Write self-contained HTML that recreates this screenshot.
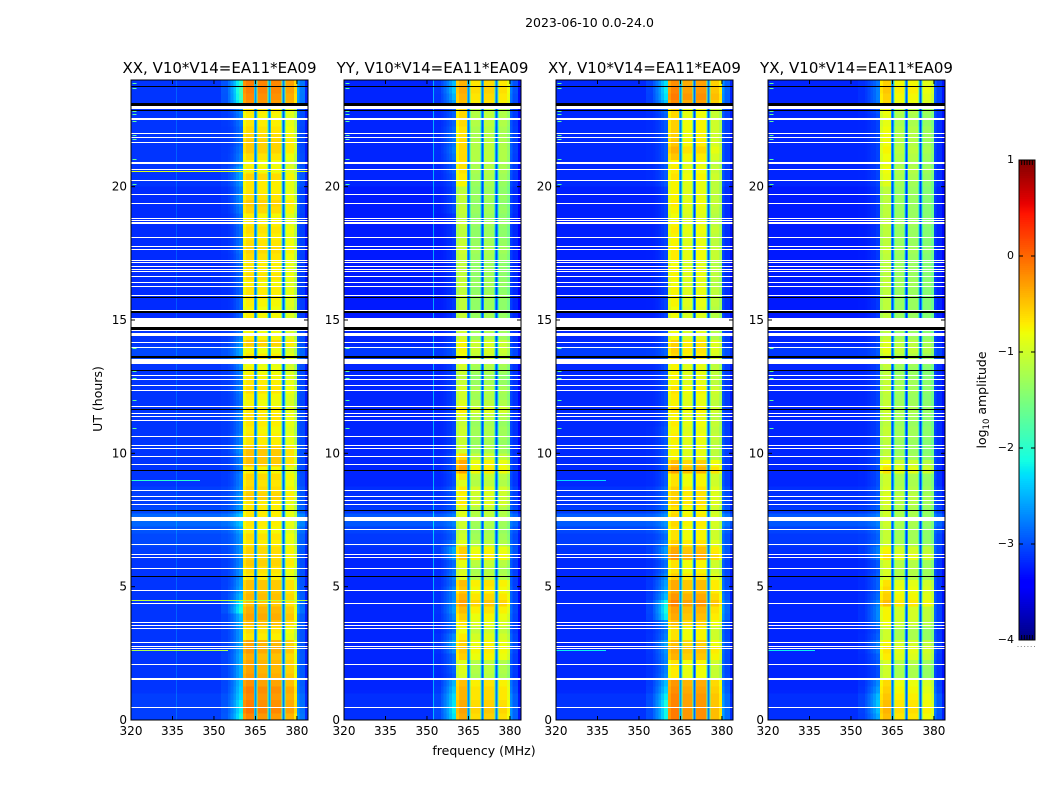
<!DOCTYPE html>
<html lang="en">
<head>
<meta charset="utf-8">
<title>2023-06-10 0.0-24.0 amplitude waterfall</title>
<style>
html,body{margin:0;padding:0;background:#fff;width:1050px;height:800px;overflow:hidden}
svg{display:block}
text{font-family:"DejaVu Sans","Liberation Sans",sans-serif;fill:#000}
</style>
</head>
<body>
<svg id="chart" xmlns="http://www.w3.org/2000/svg" width="1050" height="800" viewBox="0 0 1050 800">
<text x="589.5" y="27" font-size="12.5" text-anchor="middle">2023-06-10 0.0-24.0</text>
<text x="484" y="755" font-size="12.5" text-anchor="middle">frequency (MHz)</text>
<text x="0" y="0" font-size="12.5" text-anchor="middle" transform="translate(102,399) rotate(-90)">UT (hours)</text>
<text x="0" y="0" font-size="12.5" text-anchor="middle" transform="translate(986,400) rotate(-90)">log<tspan font-size="8.5" dy="3">10</tspan><tspan dy="-3"> amplitude</tspan></text>
<g id="panels"></g>
<g id="colorbar"></g>
</svg>
<script>
// ---------- categories and axis labels ----------
const panelTitles = ["XX, V10*V14=EA11*EA09","YY, V10*V14=EA11*EA09","XY, V10*V14=EA11*EA09","YX, V10*V14=EA11*EA09"];
const xTickLabels = [320,335,350,365,380];
const yTickLabels = [0,5,10,15,20];
const colorbarTickLabels = [1,0,-1,-2,-3,-4];

// frequency bin edges in MHz (33 edges, 32 bins)
const freqEdges = [320,325,330,336.2,336.6,342,347,352.2,352.6,355,356,357,358,359,360.5,361.5,364.4,364.7,365.4,365.7,369.4,369.7,370.4,370.7,374.5,374.8,375.5,375.8,379,380,381,383,384];

// log10 amplitude read per frequency bin
const spectrumXX = [-3.12,-3.12,-3.12,-2.9,-3.12,-3.12,-3.12,-3.12,-3.12,-3.12,-3.1,-3.05,-3.0,-2.95,-0.88,-0.76,-2.1,-2.85,-2.1,-0.8,-2.1,-2.75,-2.1,-0.82,-2.1,-2.95,-2.1,-0.95,-1.25,-3.0,-3.05,-3.25];
const spectrumYY = [-3.2,-3.2,-3.2,-3.2,-3.2,-3.2,-3.2,-2.5,-3.2,-3.2,-3.18,-3.15,-3.15,-3.1,-1.15,-1.0,-2.2,-2.9,-2.2,-1.27,-2.2,-3.0,-2.2,-1.2,-2.2,-3.0,-2.2,-1.28,-1.45,-3.05,-3.15,-3.35];
const spectrumXY = [-3.18,-3.18,-3.18,-3.18,-3.18,-3.18,-3.18,-3.18,-3.18,-3.18,-3.16,-3.14,-3.1,-3.05,-1.0,-0.85,-2.1,-2.85,-2.1,-1.0,-2.1,-3.1,-2.1,-0.95,-2.1,-3.0,-2.1,-1.2,-1.4,-3.0,-3.1,-3.25];
const spectrumYX = [-3.2,-3.2,-3.2,-3.2,-3.2,-3.2,-3.2,-3.2,-3.2,-3.2,-3.18,-3.15,-3.15,-3.1,-1.2,-1.05,-2.2,-3.0,-2.2,-1.27,-2.2,-3.1,-2.2,-1.27,-2.2,-3.1,-2.2,-1.38,-1.55,-3.05,-3.15,-3.3];

// how strongly each frequency bin follows the in-band gain, the band shoulder and the out-of-band backdrop
const bandResponse = [0,0,0,0,0,0,0,0,0,0,0,0,0,0,1,1,.6,.3,.6,1,.6,.3,.6,1,.6,.3,.6,1,1,0,0,0];
const shoulderResponse = [0,0,0,0,0,0,0,0,.15,.3,.45,.6,.8,1,0,0,0,0,0,0,0,0,0,0,0,0,0,0,0,.4,.25,.05];
const backdropResponse = [1,1,1,1,1,1,1,1,1,1,1,1,1,1,0,0,0,0,0,0,0,0,0,0,0,0,0,0,0,1,1,1];

// in-band gain for each quarter hour from 0 UT to 24 UT
const gainXX = [.55,.65,.6,.55,.6,.5,.45,.4,.4,.35,.45,.4,.1,.15,.35,.45,.4,.3,.35,.3,.3,.1,.15,.25,.2,.2,.1,.15,.05,.1,.1,.1,.1,.25,.2,.15,.2,.05,.3,.3,.3,.1,.1,.05,.1,.15,.1,0,.05,.15,.1,.05,0,-.05,.1,0,.25,.05,0,0,.05,0,.05,.1,.1,.05,.15,.1,.1,.15,.2,.15,.1,.15,.1,.05,.2,.25,.15,.1,.1,.2,.05,0,.15,.25,.25,.2,.15,.1,.05,.1,.55,.6,.65,.65];
const gainYY = [.65,.7,.65,.6,.6,.55,.05,.1,.1,.45,.5,.45,.3,.2,.35,.45,.55,.7,.6,.5,.55,.1,.05,.15,.5,.45,.1,0,-.05,0,.1,.1,.3,.25,.3,.1,.15,.5,.45,.2,0,-.05,0,0,-.05,.1,.3,.1,0,.05,-.05,-.1,0,.05,.2,.25,.25,0,0,0,-.05,-.1,-.1,-.05,-.1,-.05,-.1,-.1,-.1,-.05,0,-.05,-.1,-.1,-.05,-.1,-.05,-.1,-.05,-.1,-.05,0,.05,.05,.1,.1,.1,.05,.05,.1,.1,.1,.55,.6,.65,.6];
const gainXY = [.75,.75,.7,.7,.65,.6,.15,.15,.2,.45,.5,.4,.2,.2,.4,.5,.55,.7,.6,.5,.5,.3,.2,.2,.6,.5,.3,.2,.2,.25,.25,.2,.3,.3,.3,.2,.2,.55,.4,.1,.1,.1,.15,.1,.15,.1,.2,.1,.15,.2,.1,.1,.1,.1,.25,.3,.3,.05,.05,.05,.05,.05,.1,.1,.1,.05,.1,.1,.05,.15,.15,.1,.1,.15,.1,.05,.1,.15,.1,.1,.1,.2,.15,.1,.25,.35,.25,.2,.2,.2,.15,.15,.65,.75,.7,.65];
const gainYX = [.6,.65,.6,.55,.5,.45,.05,.05,.1,.35,.4,.3,.05,.05,.25,.3,.3,.6,.5,.45,.4,.1,.1,.1,.4,.3,.05,0,0,.05,.05,.05,.1,.15,.1,.05,.05,.4,.25,0,-.05,-.05,0,0,-.05,0,.05,0,-.05,0,0,-.05,-.05,0,.1,.2,.15,0,-.05,-.05,-.05,-.05,-.05,-.05,-.05,0,-.05,-.05,-.05,-.05,0,-.05,-.05,-.05,0,-.05,-.05,-.05,-.05,-.05,0,.05,.1,.05,.1,.15,.1,.1,.1,.05,.05,.1,.45,.5,.55,.5];

// shoulder excess just below the band for each quarter hour
const shoulderXX = [.8,.7,.7,.6,.6,.55,.45,.45,.45,.45,.4,.4,.35,.35,.45,.5,.9,.8,.5,.4,.35,.3,.3,.25,.25,.25,.2,.2,.25,.3,.3,.25,.25,.25,.2,.2,.2,.15,.2,.2,.3,.2,.2,.15,.15,.2,.15,.1,.15,.2,.15,.15,.2,.25,.3,.3,.3,.2,.15,.1,.1,.1,.1,.1,.1,.1,.1,.1,.15,.15,.2,.2,.15,.15,.2,.15,.25,.3,.35,.25,.3,.4,.4,.25,.2,.15,.1,.1,.1,.15,.2,.25,.95,1.05,1.1,1.0];
const shoulderYY = [.8,.85,.8,.75,.7,.6,.15,.2,.25,.25,.4,.55,.4,.25,.3,.4,.5,.45,.4,.4,.3,.35,.3,.25,.45,.5,.2,.1,.1,.1,.1,.1,.1,.1,.15,.1,.1,.15,.1,.1,.05,.05,.05,.05,.05,.05,.05,.05,.05,.05,.05,.05,.05,.05,.05,.05,.05,.05,.05,.05,.05,.05,.05,.05,.05,.05,.05,.05,.05,.05,.05,.05,.05,.05,.05,.05,.15,.15,.15,.1,.1,.15,.2,.2,.3,.35,.3,.3,.25,.2,.2,.2,.5,.6,.7,.65];
const shoulderXY = [.85,.85,.9,.8,.7,.6,.35,.3,.3,.35,.4,.5,.3,.25,.4,.85,.95,.9,.6,.5,.45,.35,.25,.2,.35,.4,.2,.1,.15,.15,.15,.15,.15,.15,.15,.1,.1,.1,.1,.1,.1,.1,.1,.1,.05,.05,.05,.05,.05,.05,.05,.05,.05,.05,.05,.05,.05,.05,.05,.05,.05,.05,.05,.05,.05,.05,.05,.05,.05,.05,.05,.05,.05,.05,.05,.05,.05,.05,.05,.05,.1,.1,.1,.1,.1,.1,.1,.1,.1,.1,.15,.2,.65,.8,.85,.8];
const shoulderYX = [.5,.6,.65,.6,.5,.4,.1,.1,.15,.2,.3,.35,.2,.15,.3,.4,.4,.35,.25,.2,.2,.2,.15,.15,.3,.3,.15,.1,.1,.1,.1,.1,.1,.1,.1,.1,.1,.1,.1,.1,.05,.05,.05,.05,.05,.05,.05,.05,.05,.05,.05,.05,.05,.05,.05,.05,.05,.05,.05,.05,.05,.05,.05,.05,.05,.05,.05,.05,.05,.05,.05,.05,.05,.05,.05,.05,.05,.05,.05,.05,.05,.05,.05,.05,.05,.05,.05,.05,.05,.05,.1,.15,.3,.35,.35,.3];

// broadband brightening of the out-of-band backdrop per quarter hour, shared by all panels
const backdropByRow = [.05,.05,.05,.05,0,0,0,0,0,0,0,0,0,0,0,0,0,0,0,0,0,0,0,0,0,.05,.1,.1,.15,.25,.25,.1,.05,.05,.05,0,0,0,0,0,0,0,0,0,0,0,0,0,0,0,0,0,0,0,.1,.1,0,0,0,0,-.05,-.05,-.05,-.05,-.05,-.05,-.05,-.05,-.05,-.05,-.05,-.05,-.05,-.05,-.05,-.05,-.05,-.05,-.05,-.05,0,0,0,0,0,0,0,0,0,0,0,0,0,0,0,0];

// extra lead-sub-band boost: [start hour, end hour, log10 amount]
const leadBoostXX = [[0,3,.05]];
const leadBoostYY = [[20,23,.3],[9,10,.2]];
const leadBoostXY = [[21,23,.1]];
const leadBoostYX = [[20,23,.15]];

// flagged integrations: [centre hour, height in hours]
const whiteFlags = [[.476,.05],[1.519,.09],[2.089,.05],[2.663,.05],[2.738,.05],[2.914,.05],[3.45,.05],[3.551,.05],[3.649,.05],[4.376,.05],[4.864,.05],[5.689,.05],[6.11,.05],[6.225,.05],[6.58,.05],[7.144,.05],[7.526,.15],[8.1,.05],[8.25,.05],[8.4,.05],[8.625,.05],[9.6,.05],[9.9,.05],[10.2,.05],[10.31,.05],[10.63,.05],[11.25,.05],[11.4,.05],[11.51,.05],[11.74,.05],[12.375,.05],[12.56,.05],[12.78,.05],[12.91,.05],[13.46,.17],[13.97,.05],[14.14,.05],[14.44,.13],[14.6,.05],[14.9,.32],[15.34,.05],[15.92,.05],[16.26,.05],[16.4,.05],[16.65,.05],[16.8,.05],[16.88,.05],[17.0,.05],[17.16,.05],[17.23,.05],[17.64,.05],[17.74,.05],[18.08,.05],[18.62,.075],[18.72,.05],[18.81,.05],[19.38,.05],[19.69,.05],[20.25,.05],[20.63,.05],[20.89,.075],[21.66,.05],[21.85,.05],[22.0,.05],[22.54,.075],[22.96,.11]];
const blackFlags = [[5.39,.05],[7.85,.05],[9.36,.05],[11.63,.05],[13.1,.05],[13.61,.09],[14.68,.13],[15.29,.075],[15.85,.055],[23.09,.12],[22.87,.04],[23.74,.04]];

// narrow-band interference rows: [panel index, hour, log10 amplitude, from MHz, to MHz]
const interferenceRows = [[0,4.5,-1.1,320,384],[0,2.6,-1.2,320,355],[0,20.57,-.9,320,384],[0,9.0,-2.0,320,345],[2,2.6,-2.2,320,338],[2,9.0,-2.3,320,338],[3,2.6,-2.2,320,337]];

// short bright marks in the lowest channel: hours
const edgeMarkHours = [23.87,23.68,22.83,22.71,22.53,22.44,21.99,21.91,21.76,21.03,20.64,20.08,14.68,13.95,13.07,12.91,12.79,12,10.92];

const spectra = [spectrumXX,spectrumYY,spectrumXY,spectrumYX];
const gains = [gainXX,gainYY,gainXY,gainYX];
const shoulders = [shoulderXX,shoulderYY,shoulderXY,shoulderYX];
const leadBoosts = [leadBoostXX,leadBoostYY,leadBoostXY,leadBoostYX];

// ---------- layout and scales ----------
const NS = "http://www.w3.org/2000/svg";
const panelLeft = [131,344,556,768];
const panelWidth = 177, plotTop = 80, plotBottom = 720;
const freqMin = 320, freqMax = 384, hourMin = 0, hourMax = 24, rowStep = 0.25;
const barLeft = 1019, barRight = 1035, barTop = 160, barBottom = 640;
const levelMin = -4, levelMax = 1;

function xScale(panel, mhz){ return panelLeft[panel] + (mhz - freqMin) / (freqMax - freqMin) * panelWidth; }
function yScale(hour){ return plotBottom - (hour - hourMin) / (hourMax - hourMin) * (plotBottom - plotTop); }
function barScale(level){ return barBottom - (level - levelMin) / (levelMax - levelMin) * (barBottom - barTop); }

function lerpStops(t, stops){
  for(let i = 1; i < stops.length; i++){
    if(t <= stops[i][0]){
      const a = stops[i-1], b = stops[i];
      return a[1] + (b[1]-a[1]) * (t-a[0]) / (b[0]-a[0]);
    }
  }
  return stops[stops.length-1][1];
}
const jetRed = [[0,0],[.35,0],[.66,1],[.89,1],[1,.5]];
const jetGreen = [[0,0],[.125,0],[.375,1],[.64,1],[.91,0],[1,0]];
const jetBlue = [[0,.5],[.11,1],[.34,1],[.65,0],[1,0]];
function jet(level){
  const t = Math.max(0, Math.min(1, (level - levelMin) / (levelMax - levelMin)));
  const ch = s => Math.round(255 * lerpStops(t, s));
  return "rgb(" + ch(jetRed) + "," + ch(jetGreen) + "," + ch(jetBlue) + ")";
}
function shape(parent, tag, attrs){
  const el = document.createElementNS(NS, tag);
  for(const k in attrs) el.setAttribute(k, attrs[k]);
  parent.appendChild(el);
  return el;
}
function cellLevel(panel, bin, row){
  const start = row * rowStep;
  let boost = 0;
  if(bin === 14 || bin === 15){
    leadBoosts[panel].forEach(function(b){ if(start >= b[0] && start < b[1]) boost += b[2]; });
  }
  return spectra[panel][bin]
    + bandResponse[bin] * (gains[panel][row] + boost)
    + shoulderResponse[bin] * shoulders[panel][row]
    + backdropResponse[bin] * backdropByRow[row];
}
// place a flagged row on whole pixels so thin lines stay crisp, as in the raster original
function flagBox(centre, span){
  const px = span / (hourMax - hourMin) * (plotBottom - plotTop);
  const h = Math.max(1, Math.round(px));
  return {y: Math.round(yScale(centre) - h / 2), height: h};
}

// ---------- panels ----------
const panelsRoot = document.getElementById("panels");
panelTitles.forEach(function(title, p){
  const group = shape(panelsRoot, "g", {});
  
  

  // heatmap cells
  const cells = shape(group, "g", {"shape-rendering":"crispEdges"});
  
  
  gains[p].forEach(function(_, row){
    const yA = yScale((row + 1) * rowStep), yB = yScale(row * rowStep);
    spectra[p].forEach(function(_, bin){
      const xA = xScale(p, freqEdges[bin]), xB = xScale(p, freqEdges[bin+1]);
      const cell = shape(cells, "rect", {x:xA, y:yA, width:xB-xA, height:yB-yA, fill:jet(cellLevel(p, bin, row))});
      
      
    });
  });

  // interference rows
  interferenceRows.filter(function(r){ return r[0] === p; }).forEach(function(r){
    const box = flagBox(r[1], .04);
    const line = shape(cells, "rect", {x:xScale(p,r[3]), y:box.y, width:xScale(p,r[4])-xScale(p,r[3]), height:box.height, fill:jet(r[2])});
    
    
  });

  // low-channel marks
  edgeMarkHours.forEach(function(h){
    const box = flagBox(h, .05);
    const mark = shape(cells, "rect", {x:xScale(p,320.5), y:box.y, width:xScale(p,322)-xScale(p,320.5), height:box.height, fill:jet(-1.7)});
    
    
  });

  // flagged rows
  whiteFlags.forEach(function(f){
    const box = flagBox(f[0], f[1]);
    const flag = shape(cells, "rect", {x:panelLeft[p], y:box.y, width:panelWidth, height:box.height, fill:"#fff"});
    
    
  });
  blackFlags.forEach(function(f){
    const box = flagBox(f[0], f[1]);
    const flag = shape(cells, "rect", {x:panelLeft[p], y:box.y, width:panelWidth, height:box.height, fill:"#000"});
    
    
  });

  // frame
  const frame = shape(group, "rect", {x:panelLeft[p], y:plotTop, width:panelWidth, height:plotBottom-plotTop, fill:"none", stroke:"#000", "stroke-width":1});
  
  

  // x ticks
  xTickLabels.forEach(function(v){
    const x = xScale(p, v);
    const bottomTick = shape(group, "line", {x1:x, x2:x, y1:plotBottom, y2:plotBottom-4, stroke:"#000"});
    
    
    const topTick = shape(group, "line", {x1:x, x2:x, y1:plotTop, y2:plotTop+4, stroke:"#000"});
    
    
    const label = shape(group, "text", {x:x, y:plotBottom+15, "font-size":12, "text-anchor":"middle"});
    label.textContent = v;
    
    
  });

  // y ticks
  yTickLabels.forEach(function(v){
    const y = yScale(v);
    const leftTick = shape(group, "line", {x1:panelLeft[p], x2:panelLeft[p]+4, y1:y, y2:y, stroke:"#000"});
    
    
    const rightTick = shape(group, "line", {x1:panelLeft[p]+panelWidth, x2:panelLeft[p]+panelWidth-4, y1:y, y2:y, stroke:"#000"});
    
    
    const label = shape(group, "text", {x:panelLeft[p]-4, y:y+4, "font-size":12, "text-anchor":"end"});
    label.textContent = v;
    
    
  });

  const heading = shape(group, "text", {x:panelLeft[p]+panelWidth/2, y:73, "font-size":15, "text-anchor":"middle"});
  heading.textContent = title;
  
  
});

// ---------- colour bar ----------
const barRoot = document.getElementById("colorbar");
const barStep = 0.02;
const barFill = shape(barRoot, "g", {"shape-rendering":"crispEdges"});


const barSteps = Math.round((levelMax - levelMin) / barStep);
for(let i = 0; i < barSteps; i++){
  const lo = levelMin + i * barStep, hi = lo + barStep;
  const swatch = shape(barFill, "rect", {x:barLeft, y:barScale(hi), width:barRight-barLeft, height:barScale(lo)-barScale(hi)+.5, fill:jet(lo + barStep/2)});
  
  
}
const barFrame = shape(barRoot, "rect", {x:barLeft, y:barTop, width:barRight-barLeft, height:barBottom-barTop, fill:"none", stroke:"#000"});


colorbarTickLabels.forEach(function(v){
  const y = barScale(v);
  const tickLeft = shape(barRoot, "line", {x1:barLeft, x2:barLeft+4, y1:y, y2:y, stroke:"#000"});
  
  
  const tickRight = shape(barRoot, "line", {x1:barRight, x2:barRight-4, y1:y, y2:y, stroke:"#000"});
  
  
  const label = shape(barRoot, "text", {x:barLeft-5, y:y+3, "font-size":11, "text-anchor":"end"});
  label.textContent = String(v).replace("-", "\u2212");
  
  
});
for(let i = 1; i <= 5; i++){
  const x = barLeft + i * (barRight - barLeft) / 6;
  const topMinor = shape(barRoot, "line", {x1:x, x2:x, y1:barTop, y2:barTop+5, stroke:"#000"});
  
  
  const bottomMinor = shape(barRoot, "line", {x1:x, x2:x, y1:barBottom, y2:barBottom-5, stroke:"#000"});
  
  
}
for(let i = 0; i < 6; i++){
  const dot = shape(barRoot, "rect", {x:barLeft-1.5+i*3.3, y:646, width:1, height:1, fill:"#888"});
  
  
}
</script>
</body>
</html>
